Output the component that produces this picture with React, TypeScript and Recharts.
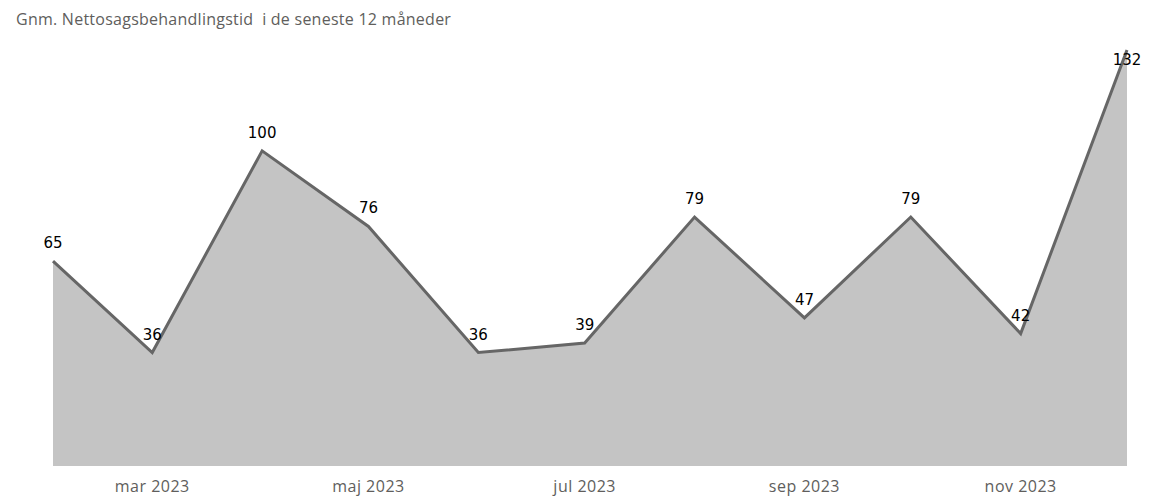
import { AreaChart, Area, XAxis, YAxis, LabelList } from "recharts";

const maaneder = ["2023-02", "2023-03", "2023-04", "2023-05", "2023-06", "2023-07", "2023-08", "2023-09", "2023-10", "2023-11", "2023-12"];
const behandlingstid = [65, 36, 100, 76, 36, 39, 79, 47, 79, 42, 132];
const tickMaaneder = ["2023-03", "2023-05", "2023-07", "2023-09", "2023-11"];
const tickLabels = ["mar 2023", "maj 2023", "jul 2023", "sep 2023", "nov 2023"];

const tilTid = (m: string) => {
  const [aar, md] = m.split("-").map(Number);
  return Date.UTC(aar, md - 1, 1);
};

const dados = maaneder.map((m, i) => ({ t: tilTid(m), vaerdi: behandlingstid[i] }));
const ticks = tickMaaneder.map(tilTid);

const PLOT_TOP = 50;

function DataLabel(props: any) {
  const { x, y, value } = props;
  const under = y - 26 < PLOT_TOP - 20;
  return (
    <text
      x={x}
      y={under ? y + 15 : y - 13}
      textAnchor="middle"
      fontFamily="DejaVu Sans"
      fontSize={15}
      fill="#000"
    >
      {value}
    </text>
  );
}

export default function App() {
  return (
    <div
      style={{
        position: "absolute",
        left: 0,
        top: 0,
        width: 1152,
        height: 499,
        overflow: "hidden",
        background: "#fff",
      }}
    >
      <div
        style={{
          position: "absolute",
          left: 16,
          top: 8,
          fontFamily: "'Open Sans', sans-serif",
          fontSize: 16,
          letterSpacing: 0.25,
          color: "#605E5C",
          whiteSpace: "pre",
        }}
      >
        {"Gnm. Nettosagsbehandlingstid  i de seneste 12 måneder"}
      </div>
      <AreaChart
        width={1152}
        height={499}
        data={dados}
        margin={{ top: PLOT_TOP, right: 25, left: 53, bottom: 0 }}
      >
        <XAxis
          dataKey="t"
          type="number"
          scale="time"
          domain={["dataMin", "dataMax"]}
          ticks={ticks}
          tickFormatter={(v) => tickLabels[ticks.indexOf(v)] ?? ""}
          axisLine={false}
          tickLine={false}
          height={33}
          tickMargin={9}
          tick={{ fill: "#605E5C", fontSize: 16, letterSpacing: 0.5, fontFamily: "'Open Sans', sans-serif" }}
        />
        <YAxis hide domain={[0, "dataMax"]} />
        <Area
          type="linear"
          dataKey="vaerdi"
          stroke="#666666"
          strokeWidth={3}
          fill="#C4C4C4"
          fillOpacity={1}
          dot={false}
          activeDot={false}
          isAnimationActive={false}
        >
          <LabelList dataKey="vaerdi" content={<DataLabel />} />
        </Area>
      </AreaChart>
    </div>
  );
}
